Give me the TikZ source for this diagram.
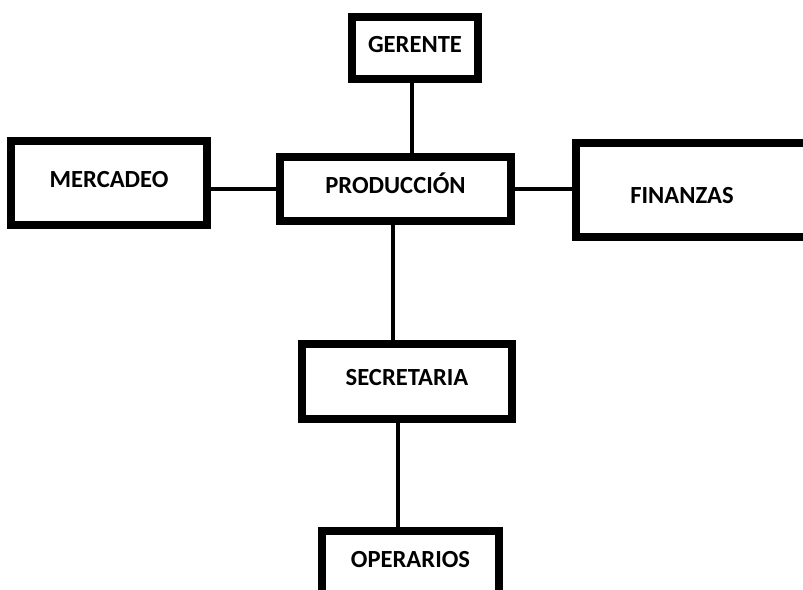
\documentclass[tikz,border=0pt]{standalone}
\usepackage{fontspec}
\setmainfont{Carlito}
\begin{document}
\begin{tikzpicture}[x=0.03cm, y=-0.03cm,
  box/.style={draw, line width=0.24cm, font=\fontsize{21}{25}\selectfont\bfseries,
    inner sep=0pt, text height=1.45ex, text depth=0pt},
  link/.style={line width=0.135cm}]
  \clip (0,0) rectangle (803,590);
  \fill[white] (0,0) rectangle (803,590);

  % Boxes
  \node[box, minimum width=3.78cm, minimum height=1.86cm] (ger) at (415,48) {GERENTE};
  \node[box, minimum width=5.88cm, minimum height=2.52cm] (merc) at (109,183) {MERCADEO};
  \node[box, minimum width=6.93cm, minimum height=1.92cm] (prod) at (395.5,189) {PRODUCCIÓN};
  \node[box, minimum width=6.96cm, minimum height=2.82cm,
    label={[font=\fontsize{21}{25}\selectfont\bfseries, xshift=-0.3cm, yshift=-0.18cm]center:FINANZAS}] (fin) at (692,190) {};
  \node[box, minimum width=6.30cm, minimum height=2.25cm] (sec) at (407,381.5) {SECRETARIA};
  \node[box, minimum width=5.31cm, minimum height=1.95cm] (op) at (410.5,563.5) {OPERARIOS};

  % Connections
  \draw[link] ([xshift=-0.09cm]ger.south) -- ([xshift=-0.09cm]ger.south |- prod.north);
  \draw[link] (merc.east |- prod.west) -- (prod.west);
  \draw[link] (prod.east) -- (prod.east -| fin.west);
  \draw[link] ([xshift=-0.075cm]prod.south) -- ([xshift=-0.075cm]prod.south |- sec.north);
  \draw[link] ([xshift=-0.27cm]sec.south) -- ([xshift=-0.27cm]sec.south |- op.north);
\end{tikzpicture}
\end{document}
